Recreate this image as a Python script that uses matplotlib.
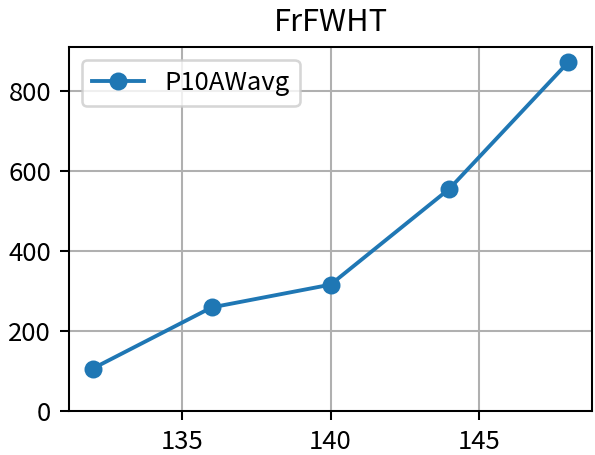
import matplotlib
matplotlib.use("Agg")
import matplotlib.pyplot as plt

plt.rcParams['font.family'] = ['Noto Sans CJK JP', 'DejaVu Sans']

sizes = [132, 136, 140, 144, 148]
p10awavg = [106, 259, 316, 556, 873]

dpi = 185
fig = plt.figure(figsize=(595 / dpi, 455 / dpi), dpi=dpi)
ax = fig.add_axes([0.116, 0.097, 0.879, 0.8])
ax.plot(sizes, p10awavg, marker='o', label='P10AWavg')
ax.set_ylim(bottom=0)
ax.set_xticks([135, 140, 145])
ax.set_yticks([0, 200, 400, 600, 800])
ax.grid(True)
ax.legend(loc='upper left')
ax.set_title('FrFWHT')
fig.savefig('out.png', dpi=dpi)
